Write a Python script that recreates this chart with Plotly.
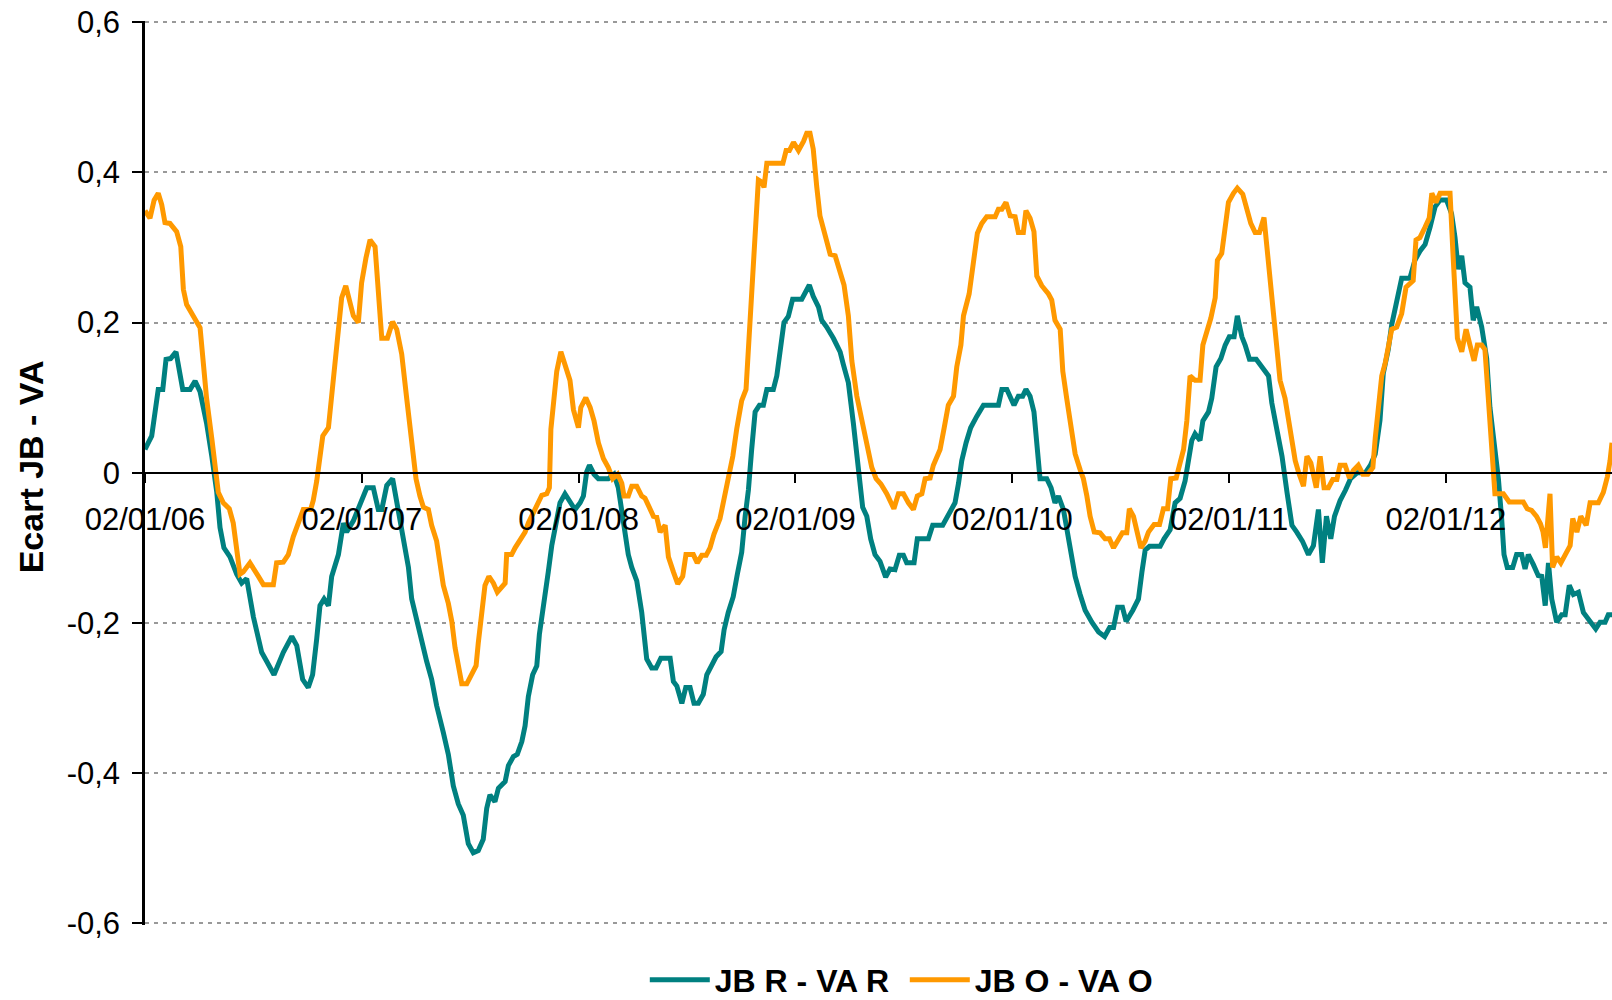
import plotly.graph_objects as go

# x positions: years elapsed since 02/01/06
years_jbr = [0.000, 0.031, 0.061, 0.082, 0.097, 0.118, 0.143, 0.174, 0.208, 0.231, 0.254, 0.284, 0.308, 0.331, 0.346,
             0.364, 0.392, 0.423, 0.446, 0.469, 0.500, 0.538, 0.561, 0.595, 0.638, 0.677, 0.700, 0.727, 0.753, 0.773,
             0.792, 0.807, 0.826, 0.846, 0.861, 0.892, 0.915, 0.930, 0.961, 0.992, 1.023, 1.053, 1.076, 1.092, 1.115,
             1.142, 1.161, 1.192, 1.215, 1.230, 1.253, 1.272, 1.299, 1.322, 1.345, 1.376, 1.399, 1.422, 1.445, 1.468,
             1.491, 1.514, 1.537, 1.560, 1.576, 1.591, 1.614, 1.630, 1.661, 1.676, 1.699, 1.717, 1.738, 1.753, 1.768,
             1.788, 1.807, 1.819, 1.845, 1.860, 1.876, 1.899, 1.914, 1.937, 1.960, 1.983, 2.007, 2.022, 2.037, 2.050,
             2.071, 2.091, 2.137, 2.163, 2.183, 2.206, 2.229, 2.245, 2.268, 2.291, 2.314, 2.337, 2.357, 2.379, 2.422,
             2.437, 2.453, 2.476, 2.494, 2.514, 2.532, 2.552, 2.575, 2.591, 2.614, 2.634, 2.657, 2.671, 2.690, 2.713,
             2.732, 2.752, 2.768, 2.783, 2.798, 2.814, 2.834, 2.852, 2.868, 2.898, 2.914, 2.929, 2.947, 2.967, 2.987,
             3.029, 3.064, 3.082, 3.106, 3.121, 3.144, 3.175, 3.206, 3.221, 3.244, 3.267, 3.290, 3.310, 3.329, 3.347,
             3.367, 3.390, 3.416, 3.436, 3.459, 3.479, 3.498, 3.513, 3.547, 3.562, 3.613, 3.633, 3.679, 3.705, 3.736,
             3.752, 3.767, 3.787, 3.808, 3.836, 3.867, 3.936, 3.952, 3.975, 4.008, 4.028, 4.048, 4.063, 4.082, 4.100,
             4.113, 4.128, 4.159, 4.179, 4.197, 4.213, 4.236, 4.251, 4.274, 4.290, 4.313, 4.336, 4.367, 4.398, 4.426,
             4.449, 4.467, 4.486, 4.508, 4.525, 4.556, 4.582, 4.598, 4.613, 4.633, 4.682, 4.700, 4.728, 4.751, 4.774,
             4.797, 4.813, 4.828, 4.843, 4.866, 4.879, 4.905, 4.920, 4.940, 4.962, 4.982, 5.001, 5.023, 5.038, 5.059,
             5.074, 5.094, 5.125, 5.143, 5.166, 5.182, 5.197, 5.220, 5.244, 5.267, 5.290, 5.312, 5.338, 5.366, 5.389,
             5.412, 5.430, 5.449, 5.469, 5.486, 5.512, 5.537, 5.560, 5.591, 5.629, 5.652, 5.674, 5.696, 5.711, 5.734,
             5.750, 5.770, 5.796, 5.834, 5.857, 5.880, 5.904, 5.927, 5.950, 5.973, 6.003, 6.026, 6.042, 6.057, 6.073,
             6.088, 6.111, 6.126, 6.142, 6.165, 6.188, 6.203, 6.226, 6.242, 6.257, 6.268, 6.283, 6.308, 6.326, 6.349,
             6.365, 6.380, 6.403, 6.426, 6.442, 6.458, 6.473, 6.488, 6.511, 6.534, 6.550, 6.569, 6.588, 6.611, 6.634,
             6.665, 6.691, 6.711, 6.734, 6.749, 6.766]
val_jbr = [0.031, 0.049, 0.111, 0.111, 0.151, 0.152, 0.161, 0.111, 0.111, 0.122, 0.108, 0.066, 0.022, -0.026, -0.073,
           -0.100, -0.112, -0.135, -0.147, -0.141, -0.192, -0.239, -0.251, -0.269, -0.239, -0.218, -0.230, -0.275, -0.286, -0.269,
           -0.221, -0.177, -0.168, -0.177, -0.138, -0.109, -0.067, -0.079, -0.064, -0.040, -0.020, -0.020, -0.049, -0.049, -0.017,
           -0.008, -0.037, -0.091, -0.126, -0.168, -0.198, -0.221, -0.251, -0.275, -0.310, -0.346, -0.375, -0.417, -0.441, -0.456,
           -0.494, -0.506, -0.503, -0.488, -0.447, -0.429, -0.438, -0.420, -0.411, -0.390, -0.378, -0.375, -0.358, -0.337, -0.298,
           -0.269, -0.257, -0.215, -0.168, -0.132, -0.097, -0.058, -0.040, -0.028, -0.040, -0.049, -0.040, -0.031, 0.001, 0.010,
           -0.002, -0.008, -0.008, -0.002, -0.020, -0.067, -0.109, -0.126, -0.144, -0.186, -0.248, -0.260, -0.260, -0.247, -0.247,
           -0.278, -0.284, -0.307, -0.286, -0.286, -0.307, -0.307, -0.295, -0.269, -0.257, -0.245, -0.238, -0.209, -0.186, -0.165,
           -0.135, -0.106, -0.058, -0.023, 0.031, 0.081, 0.090, 0.090, 0.111, 0.111, 0.129, 0.158, 0.200, 0.208, 0.231,
           0.231, 0.250, 0.235, 0.221, 0.203, 0.194, 0.179, 0.161, 0.144, 0.120, 0.066, 0.013, -0.046, -0.058, -0.088,
           -0.109, -0.118, -0.139, -0.128, -0.129, -0.110, -0.110, -0.120, -0.120, -0.088, -0.088, -0.070, -0.070, -0.055, -0.040,
           -0.014, 0.016, 0.040, 0.060, 0.075, 0.090, 0.090, 0.111, 0.111, 0.090, 0.102, 0.102, 0.111, 0.102, 0.081,
           0.046, -0.008, -0.008, -0.020, -0.040, -0.031, -0.049, -0.073, -0.103, -0.138, -0.162, -0.183, -0.199, -0.212, -0.218,
           -0.206, -0.206, -0.179, -0.179, -0.198, -0.183, -0.168, -0.132, -0.103, -0.098, -0.098, -0.088, -0.076, -0.040, -0.034,
           -0.011, 0.016, 0.043, 0.052, 0.043, 0.069, 0.081, 0.099, 0.141, 0.152, 0.170, 0.181, 0.181, 0.209, 0.181,
           0.170, 0.151, 0.151, 0.145, 0.135, 0.129, 0.093, 0.058, 0.022, -0.026, -0.070, -0.079, -0.091, -0.109, -0.097,
           -0.049, -0.120, -0.058, -0.088, -0.058, -0.037, -0.023, -0.008, 0.000, 0.000, 0.010, 0.025, 0.070, 0.132, 0.164,
           0.197, 0.224, 0.259, 0.259, 0.283, 0.295, 0.304, 0.327, 0.354, 0.363, 0.363, 0.345, 0.313, 0.271, 0.289,
           0.253, 0.247, 0.203, 0.221, 0.194, 0.152, 0.087, 0.034, -0.008, -0.061, -0.109, -0.126, -0.126, -0.109, -0.109,
           -0.128, -0.109, -0.122, -0.137, -0.138, -0.177, -0.120, -0.168, -0.199, -0.189, -0.189, -0.150, -0.162, -0.159, -0.186,
           -0.198, -0.208, -0.199, -0.199, -0.189, -0.189]

years_jbo = [0.000, 0.023, 0.042, 0.061, 0.077, 0.092, 0.115, 0.146, 0.165, 0.177, 0.192, 0.215, 0.238, 0.254, 0.269,
             0.284, 0.308, 0.323, 0.338, 0.361, 0.389, 0.407, 0.423, 0.438, 0.453, 0.484, 0.523, 0.546, 0.592, 0.607,
             0.638, 0.661, 0.684, 0.707, 0.730, 0.764, 0.776, 0.792, 0.807, 0.820, 0.846, 0.861, 0.876, 0.892, 0.907,
             0.926, 0.946, 0.961, 0.984, 0.999, 1.019, 1.038, 1.061, 1.076, 1.092, 1.118, 1.142, 1.161, 1.184, 1.207,
             1.230, 1.250, 1.268, 1.284, 1.307, 1.322, 1.345, 1.361, 1.376, 1.399, 1.415, 1.430, 1.445, 1.461, 1.484,
             1.507, 1.527, 1.537, 1.553, 1.568, 1.586, 1.607, 1.625, 1.661, 1.668, 1.691, 1.707, 1.730, 1.753, 1.768,
             1.791, 1.814, 1.830, 1.853, 1.865, 1.872, 1.884, 1.899, 1.918, 1.937, 1.960, 1.976, 1.999, 2.010, 2.033,
             2.053, 2.071, 2.091, 2.114, 2.137, 2.157, 2.180, 2.199, 2.209, 2.229, 2.245, 2.268, 2.291, 2.306, 2.326,
             2.345, 2.360, 2.376, 2.399, 2.414, 2.437, 2.457, 2.480, 2.495, 2.529, 2.547, 2.568, 2.588, 2.606, 2.624,
             2.652, 2.667, 2.686, 2.698, 2.711, 2.729, 2.752, 2.772, 2.787, 2.803, 2.814, 2.829, 2.845, 2.855, 2.868,
             2.942, 2.957, 2.972, 2.991, 3.014, 3.037, 3.052, 3.067, 3.082, 3.098, 3.113, 3.137, 3.160, 3.183, 3.198,
             3.224, 3.244, 3.260, 3.283, 3.306, 3.329, 3.352, 3.372, 3.394, 3.421, 3.436, 3.454, 3.475, 3.498, 3.521,
             3.544, 3.562, 3.583, 3.598, 3.621, 3.636, 3.667, 3.686, 3.705, 3.729, 3.744, 3.763, 3.775, 3.801, 3.821,
             3.839, 3.859, 3.882, 3.921, 3.936, 3.952, 3.971, 3.990, 4.013, 4.028, 4.051, 4.063, 4.082, 4.100, 4.113,
             4.136, 4.167, 4.182, 4.197, 4.221, 4.233, 4.251, 4.270, 4.290, 4.313, 4.328, 4.344, 4.359, 4.378, 4.405,
             4.428, 4.448, 4.467, 4.490, 4.508, 4.528, 4.540, 4.559, 4.577, 4.593, 4.613, 4.628, 4.654, 4.679, 4.697,
             4.716, 4.731, 4.756, 4.774, 4.790, 4.805, 4.820, 4.843, 4.866, 4.879, 4.897, 4.916, 4.936, 4.946, 4.966,
             4.982, 4.997, 5.020, 5.038, 5.063, 5.082, 5.100, 5.120, 5.140, 5.161, 5.177, 5.193, 5.207, 5.223, 5.235,
             5.258, 5.274, 5.290, 5.305, 5.320, 5.343, 5.359, 5.377, 5.402, 5.420, 5.438, 5.458, 5.478, 5.497, 5.512,
             5.535, 5.555, 5.573, 5.596, 5.617, 5.640, 5.663, 5.674, 5.689, 5.704, 5.720, 5.734, 5.750, 5.773, 5.796,
             5.816, 5.834, 5.849, 5.862, 5.880, 5.904, 5.923, 5.935, 5.954, 5.973, 6.019, 6.032, 6.042, 6.053, 6.073,
             6.093, 6.111, 6.130, 6.145, 6.165, 6.180, 6.191, 6.203, 6.214, 6.226, 6.265, 6.292, 6.357, 6.375, 6.395,
             6.418, 6.436, 6.448, 6.459, 6.469, 6.480, 6.492, 6.511, 6.530, 6.550, 6.573, 6.585, 6.604, 6.622, 6.647,
             6.665, 6.703, 6.726, 6.745, 6.757, 6.766]
val_jbo = [0.349, 0.339, 0.363, 0.372, 0.357, 0.333, 0.332, 0.321, 0.301, 0.244, 0.224, 0.212, 0.201, 0.193, 0.146,
           0.099, 0.046, 0.010, -0.026, -0.040, -0.048, -0.067, -0.103, -0.135, -0.132, -0.120, -0.138, -0.149, -0.149, -0.120,
           -0.119, -0.109, -0.085, -0.067, -0.049, -0.049, -0.037, -0.011, 0.022, 0.049, 0.060, 0.099, 0.141, 0.179, 0.233,
           0.249, 0.224, 0.209, 0.200, 0.253, 0.286, 0.310, 0.301, 0.247, 0.179, 0.179, 0.201, 0.191, 0.158, 0.099,
           0.034, -0.008, -0.031, -0.046, -0.049, -0.070, -0.091, -0.120, -0.150, -0.174, -0.198, -0.233, -0.257, -0.281, -0.281,
           -0.269, -0.257, -0.227, -0.186, -0.150, -0.138, -0.147, -0.159, -0.147, -0.109, -0.109, -0.100, -0.088, -0.079, -0.067,
           -0.052, -0.040, -0.030, -0.028, -0.020, 0.058, 0.093, 0.135, 0.161, 0.141, 0.123, 0.084, 0.060, 0.087, 0.100,
           0.087, 0.069, 0.040, 0.019, 0.007, -0.008, -0.002, -0.014, -0.031, -0.031, -0.018, -0.018, -0.031, -0.034, -0.046,
           -0.058, -0.059, -0.079, -0.070, -0.112, -0.132, -0.148, -0.138, -0.109, -0.109, -0.120, -0.110, -0.110, -0.100, -0.082,
           -0.061, -0.040, -0.015, 0.001, 0.022, 0.058, 0.096, 0.111, 0.185, 0.250, 0.327, 0.390, 0.387, 0.380, 0.412,
           0.412, 0.429, 0.429, 0.440, 0.429, 0.441, 0.452, 0.452, 0.431, 0.381, 0.342, 0.316, 0.291, 0.289, 0.274,
           0.250, 0.209, 0.149, 0.102, 0.072, 0.037, 0.007, -0.008, -0.015, -0.028, -0.039, -0.048, -0.028, -0.028, -0.040,
           -0.049, -0.031, -0.028, -0.008, -0.007, 0.010, 0.031, 0.060, 0.090, 0.102, 0.141, 0.170, 0.209, 0.238, 0.283,
           0.319, 0.332, 0.341, 0.341, 0.351, 0.351, 0.360, 0.342, 0.341, 0.320, 0.320, 0.349, 0.339, 0.321, 0.262,
           0.249, 0.238, 0.230, 0.203, 0.191, 0.135, 0.099, 0.058, 0.025, 0.004, -0.008, -0.031, -0.058, -0.079, -0.080,
           -0.088, -0.088, -0.100, -0.088, -0.080, -0.080, -0.048, -0.058, -0.079, -0.100, -0.091, -0.079, -0.069, -0.069, -0.048,
           -0.048, -0.008, -0.007, 0.013, 0.031, 0.069, 0.129, 0.123, 0.123, 0.170, 0.188, 0.206, 0.233, 0.283, 0.292,
           0.324, 0.360, 0.372, 0.379, 0.371, 0.349, 0.332, 0.320, 0.320, 0.340, 0.292, 0.241, 0.194, 0.152, 0.123,
           0.099, 0.069, 0.040, 0.016, 0.001, -0.018, 0.022, 0.013, -0.020, 0.022, -0.020, -0.020, -0.009, -0.009, 0.010,
           0.010, -0.007, 0.003, 0.010, -0.002, -0.002, 0.007, 0.046, 0.087, 0.129, 0.146, 0.164, 0.191, 0.194, 0.212,
           0.247, 0.253, 0.256, 0.310, 0.313, 0.327, 0.339, 0.372, 0.360, 0.372, 0.372, 0.295, 0.224, 0.179, 0.161,
           0.191, 0.170, 0.149, 0.170, 0.170, 0.164, 0.117, 0.058, 0.010, -0.028, -0.028, -0.039, -0.039, -0.048, -0.050,
           -0.058, -0.068, -0.079, -0.100, -0.060, -0.028, -0.126, -0.112, -0.120, -0.110, -0.097, -0.061, -0.079, -0.058, -0.070,
           -0.040, -0.040, -0.026, -0.005, 0.016, 0.040]

series_names = ["JB R - VA R", "JB O - VA O"]
y_ticks = [-0.6, -0.4, -0.2, 0, 0.2, 0.4, 0.6]
y_tick_labels = ["-0,6", "-0,4", "-0,2", "0", "0,2", "0,4", "0,6"]
x_ticks = [0, 1, 2, 3, 4, 5, 6]
x_tick_labels = ["02/01/06", "02/01/07", "02/01/08", "02/01/09", "02/01/10", "02/01/11", "02/01/12"]
x_end = 6.766
y_title = "Ecart JB - VA"

TEAL = "#008080"
ORANGE = "#FF9900"
FONT = "Liberation Sans, Arial, sans-serif"

fig = go.Figure()
fig.add_trace(go.Scatter(x=years_jbr, y=val_jbr, mode="lines", name=series_names[0],
                         line=dict(color=TEAL, width=5)))
fig.add_trace(go.Scatter(x=years_jbo, y=val_jbo, mode="lines", name=series_names[1],
                         line=dict(color=ORANGE, width=5)))

fig.update_layout(
    width=1612, height=1000,
    margin=dict(l=145, r=0, t=21, b=28, pad=0),
    paper_bgcolor="white", plot_bgcolor="white",
    font=dict(family=FONT, size=31, color="black"),
    showlegend=True,
    legend=dict(orientation="h", xref="container", yref="container",
                x=0.400, xanchor="left", y=0.020, yanchor="middle",
                itemwidth=60, entrywidth=185, entrywidthmode="pixels",
                font=dict(family=FONT, size=32, color="black", weight="bold"),
                bgcolor="rgba(0,0,0,0)", traceorder="normal"),
    xaxis=dict(range=[0, x_end], tickvals=x_ticks, ticktext=x_tick_labels,
               showgrid=False, zeroline=False, showline=True, linecolor="black", linewidth=2,
               ticks="outside", ticklen=9, tickwidth=2, tickcolor="black",
               anchor="free", position=0.5, ticklabelstandoff=10,
               tickfont=dict(family=FONT, size=31, color="black")),
    yaxis=dict(range=[-0.6015, 0.6015], tickvals=y_ticks, ticktext=y_tick_labels,
               showgrid=True, gridcolor="#999999", gridwidth=1.8, griddash="4px,5px",
               zeroline=False, showline=True, linecolor="black", linewidth=2.5,
               ticks="outside", ticklen=10, tickwidth=2, tickcolor="black",
               ticklabelstandoff=6,
               tickfont=dict(family=FONT, size=31, color="black")),
    annotations=[dict(text="<b>" + y_title + "</b>", textangle=-90, x=-0.0777, y=0.506,
                      xref="paper", yref="paper", xanchor="center", yanchor="middle",
                      showarrow=False, font=dict(family=FONT, size=34, color="black"))],
)

fig.write_html("out.html", config={"displayModeBar": False},
               post_script="document.body.style.margin='0';document.body.style.overflow='hidden';")
